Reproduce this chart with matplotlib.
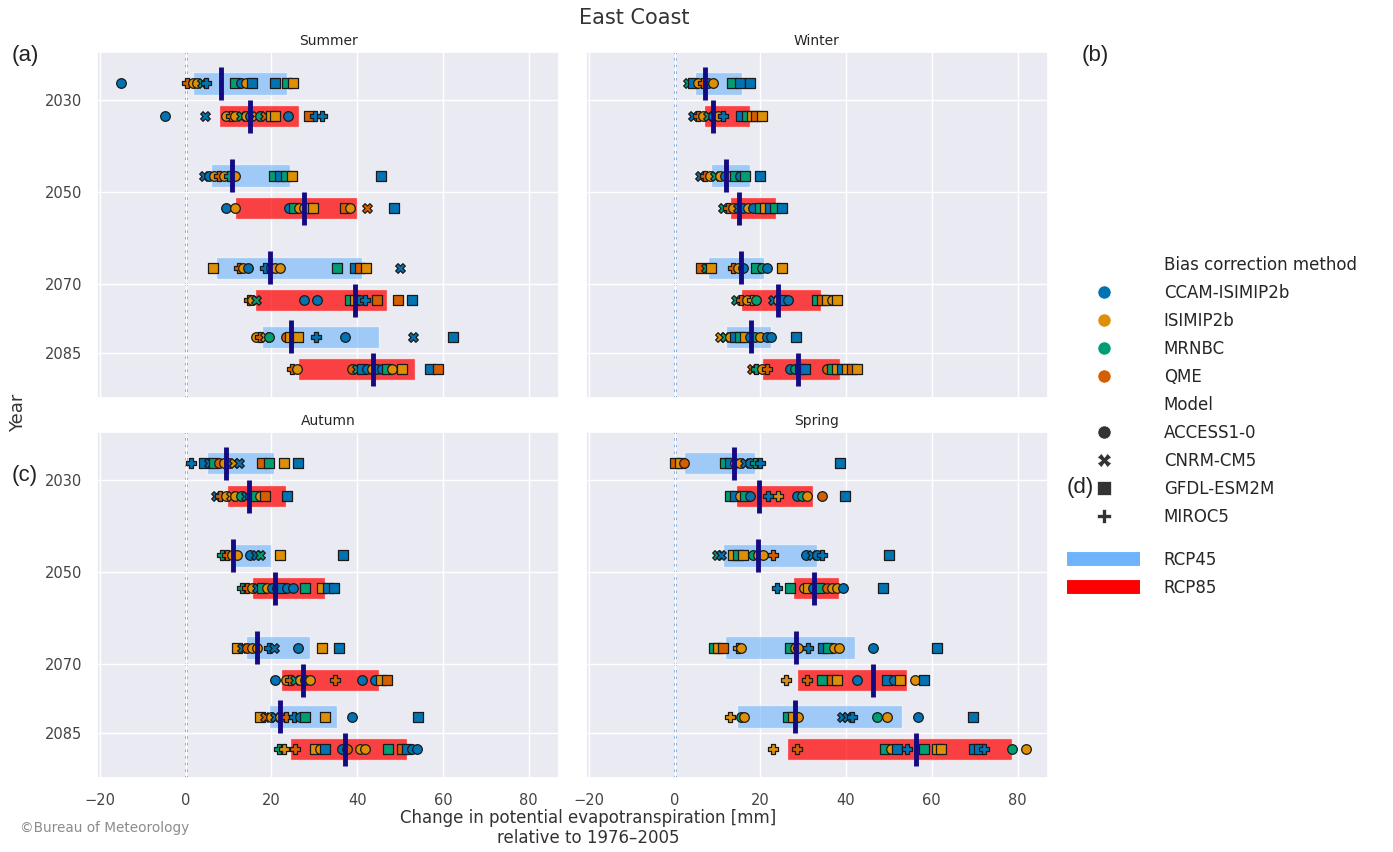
import numpy as np
import matplotlib
matplotlib.use('Agg')
import matplotlib.pyplot as plt
import seaborn as sns
from matplotlib.lines import Line2D

# categories
years = [2030, 2050, 2070, 2085]
seasons = ['Summer', 'Winter', 'Autumn', 'Spring']
method_names = {'C': 'CCAM-ISIMIP2b', 'I': 'ISIMIP2b', 'M': 'MRNBC', 'Q': 'QME'}
model_names = {'a': 'ACCESS1-0', 'c': 'CNRM-CM5', 'g': 'GFDL-ESM2M', 'm': 'MIROC5'}

# bar ranges per year: (low, high, median)
summer45_bar = [(1.6, 23.6, 8.3), (5.8, 24.3, 10.7), (7.0, 41.2, 19.6), (17.8, 45.2, 24.6)]
summer85_bar = [(7.8, 26.5, 15.1), (11.6, 39.9, 27.5), (16.1, 46.9, 39.5), (26.2, 53.6, 43.8)]
winter45_bar = [(4.7, 15.8, 7.2), (8.6, 17.6, 12.1), (7.8, 20.8, 15.5), (12.1, 22.6, 17.8)]
winter85_bar = [(6.9, 17.7, 9.0), (12.9, 23.7, 15.1), (15.6, 34.1, 24.2), (20.3, 38.5, 28.9)]
autumn45_bar = [(5.0, 20.5, 9.5), (10.9, 19.8, 11.0), (14.0, 29.1, 16.7), (19.4, 35.3, 21.9)]
autumn85_bar = [(9.7, 23.3, 14.7), (15.5, 32.6, 20.9), (22.3, 45.0, 27.4), (24.3, 51.6, 37.1)]
spring45_bar = [(2.1, 18.7, 13.9), (11.3, 33.3, 19.5), (11.7, 42.2, 28.3), (14.6, 53.1, 28.1)]
spring85_bar = [(14.3, 32.2, 19.7), (27.6, 38.3, 32.6), (28.6, 54.3, 46.2), (26.3, 78.8, 56.4)]

# individual runs per year: (value, method code + model code)
summer45_pts = [
    [(-15.1, 'Ca'), (0.4, 'Qm'), (1.6, 'Ia'), (2.7, 'Ia'), (3.9, 'Mc'), (4.8, 'Cm'), (11.6, 'Mg'), (12.8, 'Ca'),
     (14.0, 'Ia'), (15.5, 'Cg'), (20.9, 'Cg'), (23.6, 'Mg'), (25.0, 'Ig')],
    [(4.3, 'Cc'), (5.4, 'Ca'), (6.6, 'Ia'), (7.8, 'Qm'), (8.9, 'Ia'), (10.1, 'Mm'), (11.4, 'Ia'), (20.5, 'Mg'),
     (21.9, 'Cg'), (23.3, 'Mg'), (24.8, 'Ig'), (45.6, 'Cg')],
    [(6.4, 'Ig'), (12.4, 'Qm'), (13.3, 'Ia'), (14.5, 'Ca'), (18.6, 'Cm'), (19.8, 'Ca'), (20.9, 'Ia'), (21.9, 'Ia'),
     (35.3, 'Mg'), (39.5, 'Cg'), (40.7, 'Qg'), (42.0, 'Ig'), (50.0, 'Cc')],
    [(16.3, 'Ia'), (17.4, 'Qm'), (18.6, 'Ic'), (19.4, 'Ma'), (23.3, 'Qa'), (24.4, 'Ig'), (25.6, 'Ia'), (26.2, 'Ig'),
     (30.5, 'Cm'), (37.2, 'Ca'), (53.1, 'Cc'), (62.4, 'Cg')],
]
summer85_pts = [
    [(-4.8, 'Ca'), (4.5, 'Cc'), (9.3, 'Ia'), (10.5, 'Qm'), (11.6, 'Ia'), (12.8, 'Mc'), (14.0, 'Ia'), (15.1, 'Ca'),
     (16.3, 'Ic'), (17.4, 'Ma'), (18.6, 'Qc'), (19.8, 'Ig'), (20.9, 'Ig'), (23.9, 'Ca'), (28.7, 'Qg'),
     (30.2, 'Cm'), (31.8, 'Cm')],
    [(9.5, 'Ca'), (11.4, 'Ia'), (24.0, 'Ca'), (25.2, 'Mg'), (26.4, 'Ia'), (27.5, 'Ia'), (28.7, 'Ig'), (29.8, 'Ig'),
     (37.2, 'Qg'), (38.4, 'Ia'), (42.2, 'Qc'), (48.7, 'Cg')],
    [(14.7, 'Qm'), (15.5, 'Ia'), (16.3, 'Mc'), (27.5, 'Ca'), (30.6, 'Ca'), (38.4, 'Mg'), (39.5, 'Ig'), (40.7, 'Ca'),
     (41.9, 'Cm'), (44.6, 'Qg'), (49.5, 'Qg'), (52.7, 'Cg')],
    [(24.8, 'Qm'), (26.0, 'Ia'), (38.8, 'Qa'), (39.9, 'Mc'), (41.1, 'Cg'), (42.2, 'Ca'), (43.4, 'Ia'), (44.6, 'Ca'),
     (45.7, 'Ca'), (46.9, 'Mg'), (48.1, 'Ia'), (50.4, 'Ig'), (57.0, 'Cg'), (58.9, 'Qg')],
]
winter45_pts = [
    [(3.1, 'Mc'), (4.3, 'Cg'), (5.5, 'Ia'), (6.6, 'Qm'), (7.8, 'Ca'), (9.0, 'Ia'), (13.4, 'Mg'), (15.2, 'Cg'),
     (17.6, 'Cg')],
    [(5.9, 'Cc'), (7.0, 'Qm'), (8.2, 'Ia'), (9.4, 'Mc'), (10.5, 'Ia'), (11.7, 'Ca'), (12.9, 'Ia'), (14.1, 'Mg'),
     (15.2, 'Ca'), (16.4, 'Mg'), (19.9, 'Cg')],
    [(6.2, 'Qg'), (7.4, 'Mc'), (8.6, 'Ig'), (13.7, 'Qm'), (14.8, 'Ia'), (16.0, 'Ca'), (19.1, 'Mg'), (20.3, 'Ma'),
     (21.5, 'Ca'), (25.0, 'Ig')],
    [(10.5, 'Ic'), (11.7, 'Mc'), (12.9, 'Ia'), (14.1, 'Cg'), (15.2, 'Mg'), (16.4, 'Ig'), (17.6, 'Ca'), (18.7, 'Ma'),
     (19.9, 'Ia'), (21.5, 'Ca'), (22.6, 'Ca'), (28.3, 'Cg')],
]
winter85_pts = [
    [(4.3, 'Cc'), (5.5, 'Qm'), (6.6, 'Ia'), (7.8, 'Mc'), (9.0, 'Ca'), (10.1, 'Ia'), (11.3, 'Cm'), (15.6, 'Cg'),
     (16.8, 'Mg'), (18.0, 'Ig'), (19.1, 'Qg'), (20.3, 'Ig')],
    [(11.3, 'Mc'), (12.5, 'Qm'), (13.7, 'Ia'), (14.8, 'Cc'), (16.0, 'Ca'), (17.2, 'Ia'), (18.3, 'Ca'), (19.9, 'Mg'),
     (21.1, 'Ig'), (22.2, 'Cg'), (23.4, 'Mg'), (25.0, 'Cg')],
    [(14.4, 'Mc'), (15.6, 'Qm'), (16.8, 'Ia'), (18.0, 'Im'), (19.1, 'Ma'), (23.0, 'Cc'), (24.2, 'Ia'), (25.4, 'Cg'),
     (26.5, 'Ca'), (33.2, 'Mg'), (34.3, 'Qg'), (35.5, 'Ig'), (36.7, 'Ia'), (37.9, 'Ig')],
    [(18.0, 'Qc'), (19.1, 'Mm'), (20.3, 'Ia'), (21.5, 'Qm'), (26.9, 'Ca'), (28.1, 'Ma'), (29.3, 'Cg'), (30.4, 'Cg'),
     (35.5, 'Qa'), (36.7, 'Mg'), (37.9, 'Ig'), (39.0, 'Cg'), (40.2, 'Ig'), (41.4, 'Qg'), (42.5, 'Ig')],
]
autumn45_pts = [
    [(1.2, 'Cm'), (4.3, 'Cg'), (5.4, 'Cc'), (6.6, 'Mg'), (7.8, 'Qa'), (8.9, 'Ia'), (10.1, 'Ca'), (11.2, 'Ic'),
     (12.4, 'Cc'), (17.8, 'Qg'), (19.4, 'Mg'), (22.9, 'Ig'), (26.2, 'Cg')],
    [(8.5, 'Mm'), (9.7, 'Qm'), (10.9, 'Ia'), (12.0, 'Ia'), (15.1, 'Ca'), (16.3, 'Cc'), (17.4, 'Mc'), (22.1, 'Ig'),
     (36.6, 'Cg')],
    [(12.0, 'Ig'), (13.2, 'Cc'), (14.3, 'Qa'), (15.5, 'Ia'), (16.7, 'Ia'), (19.4, 'Cm'), (20.5, 'Cc'), (26.2, 'Ca'),
     (31.8, 'Ig'), (35.8, 'Cg')],
    [(17.4, 'Ig'), (18.6, 'Qc'), (19.8, 'Ia'), (20.9, 'Cc'), (22.1, 'Ia'), (23.3, 'Qm'), (25.2, 'Cm'), (26.7, 'Ca'),
     (27.9, 'Mg'), (32.6, 'Ig'), (38.8, 'Ca'), (54.3, 'Cg')],
]
autumn85_pts = [
    [(7.0, 'Cc'), (8.1, 'Qm'), (9.3, 'Ia'), (10.5, 'Ic'), (11.6, 'Ia'), (12.8, 'Ma'), (14.0, 'Cc'), (15.1, 'Ca'),
     (16.3, 'Mg'), (17.4, 'Ia'), (18.6, 'Qg'), (23.6, 'Cg')],
    [(13.2, 'Mm'), (14.3, 'Qm'), (15.5, 'Ia'), (16.7, 'Cc'), (17.8, 'Mg'), (19.0, 'Ia'), (20.2, 'Ca'), (21.3, 'Ia'),
     (22.5, 'Cg'), (23.6, 'Ca'), (25.0, 'Ca'), (27.9, 'Mg'), (31.8, 'Ig'), (33.3, 'Cg'), (34.7, 'Cg')],
    [(20.9, 'Ca'), (23.3, 'Ia'), (24.4, 'Qm'), (25.6, 'Mc'), (26.7, 'Ia'), (27.9, 'Ma'), (29.1, 'Ia'), (34.9, 'Qm'),
     (41.2, 'Ca'), (44.2, 'Ca'), (45.6, 'Ig'), (46.9, 'Qg')],
    [(21.7, 'Mm'), (22.9, 'Im'), (25.6, 'Qm'), (30.2, 'Ig'), (31.4, 'Ia'), (32.6, 'Cg'), (36.4, 'Ca'), (37.6, 'Qa'),
     (40.7, 'Ia'), (41.9, 'Ia'), (47.1, 'Mg'), (50.4, 'Qg'), (51.6, 'Cg'), (52.7, 'Ca'), (53.9, 'Ca')],
]
spring45_pts = [
    [(0.0, 'Qg'), (1.2, 'Ig'), (2.3, 'Qa'), (11.7, 'Mg'), (12.9, 'Cg'), (14.1, 'Ia'), (15.2, 'Ia'), (16.4, 'Cc'),
     (17.6, 'Ca'), (18.7, 'Mm'), (19.9, 'Cm'), (38.6, 'Cg')],
    [(9.8, 'Mc'), (10.9, 'Cc'), (13.7, 'Ig'), (14.8, 'Mg'), (16.0, 'Ig'), (18.3, 'Ma'), (19.5, 'Ia'), (20.7, 'Ia'),
     (23.0, 'Qm'), (30.6, 'Ca'), (32.0, 'Cc'), (33.2, 'Ca'), (34.3, 'Cm'), (50.1, 'Cg')],
    [(9.1, 'Mg'), (10.1, 'Ig'), (11.3, 'Qg'), (14.8, 'Im'), (15.6, 'Ia'), (26.9, 'Mg'), (28.1, 'Ia'), (28.9, 'Ia'),
     (31.2, 'Cm'), (34.7, 'Cg'), (35.9, 'Mg'), (37.1, 'Ia'), (38.3, 'Ia'), (46.3, 'Ca'), (61.3, 'Cg')],
    [(13.0, 'Im'), (15.6, 'Ma'), (16.2, 'Ia'), (26.5, 'Mg'), (27.7, 'Ig'), (28.9, 'Ia'), (39.0, 'Cc'), (40.2, 'Cc'),
     (41.4, 'Cm'), (47.2, 'Ma'), (49.6, 'Ia'), (56.8, 'Ca'), (69.5, 'Cg')],
]
spring85_pts = [
    [(12.9, 'Mg'), (14.1, 'Cg'), (15.2, 'Ia'), (16.4, 'Mg'), (17.6, 'Ca'), (21.9, 'Cm'), (24.2, 'Im'), (28.6, 'Ca'),
     (29.8, 'Ma'), (30.8, 'Ia'), (34.3, 'Qa'), (39.8, 'Cg')],
    [(24.0, 'Cm'), (26.9, 'Mg'), (30.1, 'Ia'), (31.2, 'Ig'), (32.4, 'Ca'), (33.6, 'Mg'), (35.5, 'Qa'), (36.7, 'Ia'),
     (37.9, 'Ia'), (39.4, 'Ca'), (48.6, 'Cg')],
    [(26.0, 'Im'), (31.0, 'Qm'), (34.3, 'Mg'), (36.7, 'Qg'), (37.9, 'Ig'), (42.5, 'Ca'), (49.6, 'Cg'), (51.1, 'Ca'),
     (52.5, 'Ig'), (56.0, 'Ia'), (58.3, 'Cg')],
    [(23.0, 'Im'), (28.6, 'Qm'), (49.2, 'Mg'), (50.4, 'Ia'), (51.9, 'Cg'), (54.3, 'Cm'), (58.2, 'Mg'), (61.3, 'Ig'),
     (62.1, 'Ig'), (69.9, 'Cg'), (71.0, 'Cg'), (72.2, 'Cm'), (78.8, 'Ma'), (82.0, 'Ia')],
]

sns.set_theme(style='darkgrid')
plt.rcParams['font.family'] = ['DejaVu Sans']

pal = sns.color_palette('colorblind')
method_colors = {'C': pal[0], 'I': pal[1], 'M': pal[2], 'Q': pal[3]}
model_markers = {'a': 'o', 'c': 'X', 'g': 's', 'm': 'P'}
c45 = '#6eb4fa'
c85 = '#ff0000'

fig, axes = plt.subplots(2, 2, figsize=(13.93, 8.52), dpi=100, sharex=True, sharey=True)
fig.subplots_adjust(left=0.0696, right=0.7523, top=0.939, bottom=0.0869, wspace=0.058, hspace=0.098)

panels = [
    (axes[0, 0], 'Summer', summer45_bar, summer85_bar, summer45_pts, summer85_pts),
    (axes[0, 1], 'Winter', winter45_bar, winter85_bar, winter45_pts, winter85_pts),
    (axes[1, 0], 'Autumn', autumn45_bar, autumn85_bar, autumn45_pts, autumn85_pts),
    (axes[1, 1], 'Spring', spring45_bar, spring85_bar, spring45_pts, spring85_pts),
]

for ax, title, b45, b85, p45, p85 in panels:
    for offset, bars, pts, col, alpha in [(-3.55, b45, p45, c45, 0.6), (3.55, b85, p85, c85, 0.72)]:
        ys = np.array(years) + offset
        lo = np.array([b[0] for b in bars])
        hi = np.array([b[1] for b in bars])
        med = np.array([b[2] for b in bars])
        ax.barh(ys, hi - lo, left=lo, height=4.8, color=col, alpha=alpha, zorder=1)
        for y, row in zip(ys, pts):
            for val, code in row:
                ax.scatter(val, y, color=method_colors[code[0]], marker=model_markers[code[1]],
                           s=48, edgecolor='#1a1a1a', linewidth=0.9, zorder=2)
        ax.vlines(med, ys - 3.6, ys + 3.6, color='#140a82', lw=3.5, zorder=3)
    ax.axvline(0, ls=':', color='#4a86c5', lw=1.8, zorder=0.5)
    ax.set_title(title, fontsize=10, pad=5)
    ax.set_yticks(years)
    ax.set_ylim(2094.8, 2019.6)
    ax.set_xlim(-20.7, 87.1)
    ax.set_xticks(range(-20, 81, 20))
    ax.tick_params(labelsize=10.5, colors='#444444', pad=4.5)

fig.text(0.455, 0.979, 'East Coast', ha='center', va='center', fontsize=15, color='#333333')
fig.text(0.013, 0.515, 'Year', rotation=90, ha='center', va='center', fontsize=13, color='#333333')
fig.text(0.422, 1 - 828 / 852, 'Change in potential evapotranspiration [mm]\nrelative to 1976\u20132005',
         ha='center', va='center', fontsize=12, color='#333333')
fig.text(20 / 1393, 1 - 828 / 852, '\u00a9Bureau of Meteorology', ha='left', va='center',
         fontsize=9.8, color='#8c8c8c')

for lab, x, y in [('(a)', 25, 55), ('(b)', 1095, 55), ('(c)', 25, 475), ('(d)', 1080, 487)]:
    fig.text(x / 1393, 1 - y / 852, lab, ha='center', va='center', fontsize=16,
             family=['Liberation Sans', 'DejaVu Sans'], color='#222222')

# legend for method / model
handles = [Line2D([], [], ls='none')]
labels = ['Bias correction method']
for k, name in method_names.items():
    handles.append(Line2D([0], [0], ls='none', marker='o', markersize=9.5, color=method_colors[k],
                          markeredgecolor='white', markeredgewidth=0.5))
    labels.append(name)
handles.append(Line2D([], [], ls='none'))
labels.append('Model')
for k, name in model_names.items():
    handles.append(Line2D([0], [0], ls='none', marker=model_markers[k], markersize=9.5, color='#333333',
                          markeredgecolor='white', markeredgewidth=0.5))
    labels.append(name)
fig.legend(handles, labels, loc='upper left', bbox_to_anchor=(1067 / 1393, 1 - 256 / 852), frameon=False,
           fontsize=12, handlelength=4.4, handletextpad=1.4, labelspacing=0.6, borderpad=0,
           borderaxespad=0)

rcp_handles = [Line2D([0], [0], color=c45, lw=10, solid_capstyle='butt'),
               Line2D([0], [0], color=c85, lw=10, solid_capstyle='butt')]
fig.legend(rcp_handles, ['RCP45', 'RCP85'], loc='upper left', bbox_to_anchor=(1067 / 1393, 1 - 551 / 852),
           frameon=False, fontsize=12, handlelength=4.4, handletextpad=1.4, labelspacing=0.6,
           borderpad=0, borderaxespad=0)

fig.savefig('out.png', dpi=100)
